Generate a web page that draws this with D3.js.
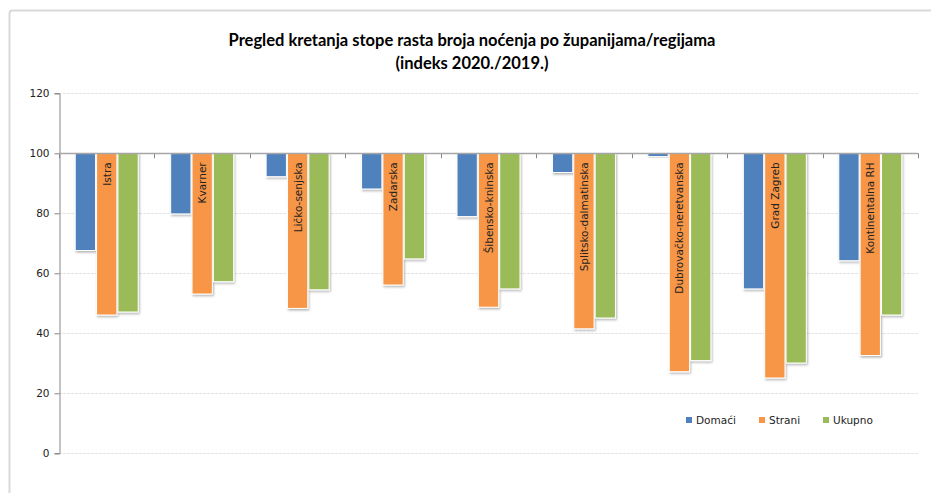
<!DOCTYPE html>
<html><head><meta charset="utf-8">
<script src="https://cdn.jsdelivr.net/npm/d3@7"></script>
<style>body{margin:0;background:#fff}svg{display:block}</style>
</head><body>
<script>
const categories = ["Istra","Kvarner","Ličko-senjska","Zadarska","Šibensko-kninska","Splitsko-dalmatinska","Dubrovačko-neretvanska","Grad Zagreb","Kontinentalna RH"];
const seriesNames = ["Domaći","Strani","Ukupno"];
const domaci = [67.6,79.8,92.2,88.1,78.9,93.6,98.9,54.8,64.2];
const strani = [46.1,53.1,48.3,56.1,48.7,41.5,27.2,25.1,32.6];
const ukupno = [47.1,57.2,54.5,64.8,54.8,45.1,30.9,30.1,46.1];
const yTicks = [0,20,40,60,80,100,120];
const colors = ["#4F81BD","#F79646","#9BBB59"];
const titleLines = ["Pregled kretanja stope rasta broja noćenja po županijama/regijama","(indeks 2020./2019.)"];

const W=931,H=493;
const svg=d3.select("body").append("svg").attr("width",W).attr("height",H);
const defs=svg.append("defs");
const f=defs.append("filter").attr("id","sh").attr("x","-20%").attr("y","-20%").attr("width","150%").attr("height","150%");
f.append("feDropShadow").attr("dx",1).attr("dy",1.5).attr("stdDeviation",0.8).attr("flood-color","#000").attr("flood-opacity",0.3);

svg.append("rect").attr("x",9.5).attr("y",10.5).attr("width",940).attr("height",500).attr("rx",3)
  .attr("fill","#fff").attr("stroke","#d9d9d9").attr("stroke-width",2);

const tf='Lato,"Liberation Sans Narrow",sans-serif';
svg.selectAll("text.title").data(titleLines).join("text").attr("class","title")
  .attr("x",472).attr("y",(d,i)=>46+i*23).attr("text-anchor","middle")
  .attr("font-family",tf).attr("font-weight","bold").attr("font-size",16.5).attr("fill","#000").text(d=>d);

const pL=59,pR=918,pT=93.3,pB=453.3;
const y=d3.scaleLinear().domain([0,120]).range([pB,pT]);
const x=d3.scaleBand().domain(categories).range([pL,pR]).paddingInner(0.34).paddingOuter(0.17);
const xs=d3.scaleBand().domain(seriesNames).range([0,x.bandwidth()]).paddingInner(0.05);

// gridlines
svg.append("g").selectAll("line").data(yTicks.filter(t=>t!==100)).join("line")
  .attr("x1",pL).attr("x2",pR).attr("y1",d=>Math.round(y(d))+0.5).attr("y2",d=>Math.round(y(d))+0.5)
  .attr("stroke","#e4e4e4").attr("stroke-dasharray","3,1");

// y axis
const ya=svg.append("g").attr("transform",`translate(${pL+0.5},0)`)
  .call(d3.axisLeft(y).tickValues(yTicks).tickSize(5).tickPadding(5));
ya.select(".domain").attr("stroke","#868686");
ya.selectAll(".tick line").attr("stroke","#868686");
ya.selectAll("text").attr("font-family","Verdana,'DejaVu Sans',sans-serif").attr("font-size",10.5).attr("fill","#222");

const series=[domaci,strani,ukupno];
const data=[];
categories.forEach((c,i)=>series.forEach((s,j)=>data.push({c,name:seriesNames[j],v:s[i],j})));

svg.append("g").selectAll("rect").data(data).join("rect")
  .attr("x",d=>x(d.c)+xs(d.name)).attr("width",xs.bandwidth())
  .attr("y",y(100)).attr("height",d=>y(d.v)-y(100))
  .attr("fill",d=>colors[d.j]).attr("stroke","#fff").attr("stroke-width",1).attr("filter","url(#sh)");

// category ticks at 100
svg.append("g").selectAll("line").data(d3.range(categories.length+1)).join("line")
  .attr("x1",i=>Math.round(pL+i*(pR-pL)/categories.length)+0.5)
  .attr("x2",i=>Math.round(pL+i*(pR-pL)/categories.length)+0.5)
  .attr("y1",y(100)).attr("y2",y(100)+5).attr("stroke","#868686");
svg.append("line").attr("x1",pL).attr("x2",pR).attr("y1",Math.round(y(100))+0.5).attr("y2",Math.round(y(100))+0.5)
  .attr("stroke","#a6a6a6").attr("stroke-width",1.5);

// category labels inside orange bars
svg.append("g").selectAll("text").data(categories).join("text")
  .attr("transform",c=>`translate(${x(c)+xs("Strani")+xs.bandwidth()/2+4},${y(100)+9}) rotate(-90)`)
  .attr("text-anchor","end").attr("font-family","'DejaVu Sans',Verdana,sans-serif").attr("font-size",10.5)
  .attr("fill","#222").text(d=>d);

// legend
const lx=[686,759,823];
const lg=svg.append("g").selectAll("g").data(seriesNames).join("g").attr("transform",(d,i)=>`translate(${lx[i]},420)`);
lg.append("rect").attr("x",0).attr("y",-3).attr("width",6).attr("height",6).attr("fill",(d,i)=>colors[i]);
lg.append("text").attr("x",10).attr("y",4).attr("font-family","Verdana,'DejaVu Sans',sans-serif").attr("font-size",10.5).attr("fill","#222").text(d=>d);
</script>
</body></html>
